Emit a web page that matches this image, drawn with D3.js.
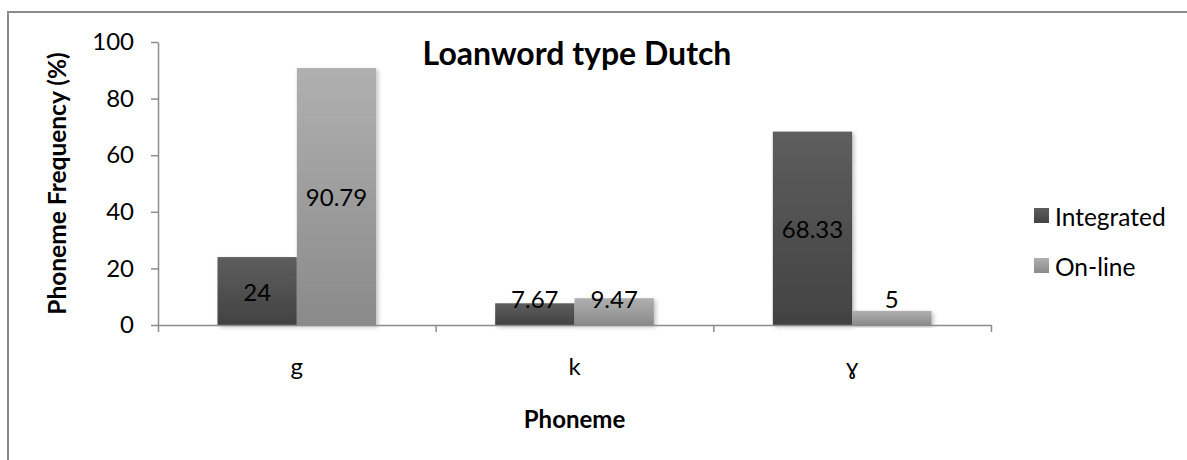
<!DOCTYPE html>
<html>
<head>
<meta charset="utf-8">
<script src="https://cdn.jsdelivr.net/npm/d3@7"></script>
<style>
  body { margin: 0; background: #fff; }
  text { font-family: Lato, "Open Sans", sans-serif; fill: #000; }
</style>
</head>
<body>
<div class="container"></div>
<script>
/* Data */
const phonemes = ['g', 'k', 'ɣ'];
const integrated = [24, 7.67, 68.33];
const online = [90.79, 9.47, 5];
const seriesNames = ['Integrated', 'On-line'];
const yTicks = [0, 20, 40, 60, 80, 100];

/* Layout */
const width = 1187;
const height = 460;
const plot = { left: 158, right: 991, top: 42, bottom: 325 };
const axisColor = '#8c8c8c';
const labelSize = 24;

const svg = d3.select('.container')
    .append('svg')
    .attr('width', width)
    .attr('height', height)
    .style('display', 'block');

const defs = svg.append('defs');
// Excel-ish vertical gradients
const grads = [
    { id: 'g-int', top: '#5e5e5e', bottom: '#424242' },
    { id: 'g-onl', top: '#b0b0b0', bottom: '#8a8a8a' }
];
grads.forEach(g => {
    const lg = defs.append('linearGradient')
        .attr('id', g.id)
        .attr('x1', 0).attr('y1', 0).attr('x2', 0).attr('y2', 1);
    lg.append('stop').attr('offset', '0%').attr('stop-color', g.top);
    lg.append('stop').attr('offset', '100%').attr('stop-color', g.bottom);
});
defs.append('filter')
    .attr('id', 'shadow')
    .attr('x', '-10%').attr('y', '-10%').attr('width', '130%').attr('height', '130%')
    .append('feDropShadow')
    .attr('dx', 2).attr('dy', 2).attr('stdDeviation', 2)
    .attr('flood-color', '#000').attr('flood-opacity', 0.25);

// outer chart border (left + top only visible)
svg.append('path')
    .attr('d', `M8,${height + 5}V12H${width + 5}`)
    .attr('fill', 'none')
    .attr('stroke', '#8a8a8a')
    .attr('stroke-width', 2);

/* Scales */
const x = d3.scaleBand()
    .domain(phonemes)
    .range([plot.left, plot.right])
    .padding(0);
const xSub = d3.scaleBand()
    .domain(seriesNames)
    .range([0, x.bandwidth()])
    .paddingInner(0)
    .paddingOuter(0.75);
const xEdge = d3.scaleLinear()
    .domain([0, phonemes.length])
    .range([plot.left, plot.right]);
const y = d3.scaleLinear()
    .domain([0, 100])
    .range([plot.bottom, plot.top]);

const rows = phonemes.map((p, i) => ({
    phoneme: p,
    values: [
        { series: seriesNames[0], value: integrated[i], fill: 'url(#g-int)' },
        { series: seriesNames[1], value: online[i], fill: 'url(#g-onl)' }
    ]
}));

/* Bars */
const groups = svg.selectAll('.group')
    .data(rows)
    .enter()
    .append('g')
    .attr('class', 'group')
    .attr('transform', d => `translate(${x(d.phoneme)},0)`);

groups.selectAll('rect')
    .data(d => d.values)
    .enter()
    .append('rect')
    .attr('x', d => xSub(d.series))
    .attr('y', d => y(d.value))
    .attr('width', xSub.bandwidth())
    .attr('height', d => y(0) - y(d.value))
    .attr('fill', d => d.fill)
    .attr('filter', 'url(#shadow)');

// labels sit mid-bar, pushed up when the bar is too short
groups.selectAll('.label')
    .data(d => d.values)
    .enter()
    .append('text')
    .attr('class', 'label')
    .attr('x', d => xSub(d.series) + xSub.bandwidth() / 2)
    .attr('y', d => Math.min((y(d.value) + y(0)) / 2, y(0) - 27))
    .attr('text-anchor', 'middle')
    .attr('dominant-baseline', 'central')
    .attr('font-size', labelSize)
    .text(d => d.value);

/* Axes */
const yAxis = svg.append('g')
    .attr('transform', `translate(${plot.left},0)`)
    .call(d3.axisLeft(y).tickValues(yTicks).tickSize(7).tickSizeOuter(0).tickPadding(17));
yAxis.selectAll('path, line').attr('stroke', axisColor).attr('stroke-width', 1.5);
yAxis.selectAll('text').attr('font-size', labelSize).attr('font-family', 'Lato, sans-serif').attr('fill', '#000');

const xAxis = svg.append('g')
    .attr('transform', `translate(0,${plot.bottom})`)
    .call(d3.axisBottom(xEdge).tickValues(d3.range(phonemes.length + 1)).tickFormat('').tickSize(7).tickSizeOuter(0));
xAxis.selectAll('path, line').attr('stroke', axisColor).attr('stroke-width', 1.5);

svg.selectAll('.cat')
    .data(phonemes)
    .enter()
    .append('text')
    .attr('class', 'cat')
    .attr('x', d => x(d) + x.bandwidth() / 2)
    .attr('y', 375)
    .attr('text-anchor', 'middle')
    .attr('font-size', labelSize)
    .text(d => d);

/* Titles */
svg.append('text')
    .attr('x', 577)
    .attr('y', 65)
    .attr('text-anchor', 'middle')
    .attr('font-size', 32)
    .attr('font-weight', 'bold')
    .text('Loanword type Dutch');

svg.append('text')
    .attr('x', (plot.left + plot.right) / 2)
    .attr('y', 428)
    .attr('text-anchor', 'middle')
    .attr('font-size', 24)
    .attr('font-weight', 'bold')
    .text('Phoneme');

svg.append('text')
    .attr('transform', `translate(66,${(plot.top + plot.bottom) / 2}) rotate(-90)`)
    .attr('text-anchor', 'middle')
    .attr('font-size', 24.5)
    .attr('font-weight', 'bold')
    .text('Phoneme Frequency (%)');

/* Legend */
const legend = svg.selectAll('.legend')
    .data(grads.map((g, i) => ({ name: seriesNames[i], fill: `url(#${g.id})` })))
    .enter()
    .append('g')
    .attr('class', 'legend')
    .attr('transform', (d, i) => `translate(1034,${208 + i * 50})`);
legend.append('rect')
    .attr('width', 15)
    .attr('height', 15)
    .attr('fill', d => d.fill);
legend.append('text')
    .attr('x', 21)
    .attr('y', 8)
    .attr('dominant-baseline', 'central')
    .attr('font-size', 24.5)
    .text(d => d.name);
</script>
</body>
</html>
